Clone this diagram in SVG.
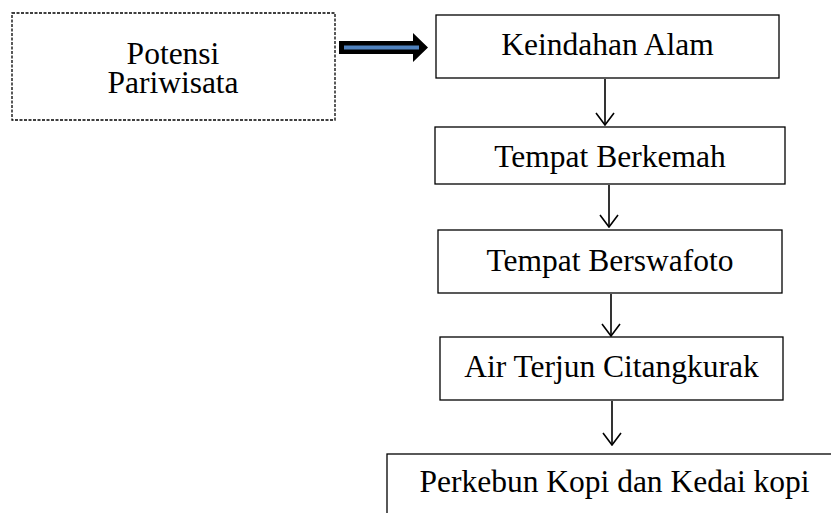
<svg xmlns="http://www.w3.org/2000/svg" width="831" height="513" viewBox="0 0 831 513">
<defs>
<marker id="v" markerWidth="14" markerHeight="20" refX="13" refY="10" orient="auto" markerUnits="userSpaceOnUse" viewBox="0 0 14 20">
<path d="M1,1 L13,10 L1,19" fill="none" stroke="#000" stroke-width="1.6"/>
</marker>
</defs>
<style>
.box{fill:#fff;stroke:#000;stroke-width:1.3}
.dash{fill:#fff;stroke:#000;stroke-width:1.3;stroke-dasharray:3 1.5}
.t{font-family:"Liberation Serif","Times New Roman",serif;font-size:31.5px;fill:#000;text-anchor:middle}
.c{stroke:#000;stroke-width:1.6;fill:none}
</style>
<rect width="831" height="513" fill="#fff"/>
<g id="potensi">
<rect class="dash" x="12" y="13" width="323" height="107"/>
<text class="t" x="173" y="64">Potensi</text>
<text class="t" x="173" y="93">Pariwisata</text>
</g>
<g id="keindahan">
<rect class="box" x="436" y="15" width="343" height="63"/>
<text class="t" x="607.5" y="55">Keindahan Alam</text>
</g>
<g id="berkemah">
<rect class="box" x="435" y="127" width="350" height="57"/>
<text class="t" x="610" y="167">Tempat Berkemah</text>
</g>
<g id="berswafoto">
<rect class="box" x="438" y="230" width="344" height="63"/>
<text class="t" x="610" y="271">Tempat Berswafoto</text>
</g>
<g id="airterjun">
<rect class="box" x="440" y="337" width="343" height="63"/>
<text class="t" x="611.5" y="377">Air Terjun Citangkurak</text>
</g>
<g id="perkebun">
<rect class="box" x="387" y="454" width="460" height="70"/>
<text class="t" x="614.5" y="492">Perkebun Kopi dan Kedai kopi</text>
</g>
<g id="connectors">
<polygon points="339,41 413,41 413,33 428,47.5 413,62 413,54 339,54" fill="#000"/>
<line x1="344" y1="47.5" x2="419" y2="47.5" stroke="#4f81bd" stroke-width="4"/>
<line class="c" x1="605" y1="79" x2="605" y2="125" marker-end="url(#v)"/>
<line class="c" x1="609" y1="185" x2="609" y2="227" marker-end="url(#v)"/>
<line class="c" x1="611" y1="294" x2="611" y2="336" marker-end="url(#v)"/>
<line class="c" x1="612" y1="401" x2="612" y2="445" marker-end="url(#v)"/>
</g>
</svg>
